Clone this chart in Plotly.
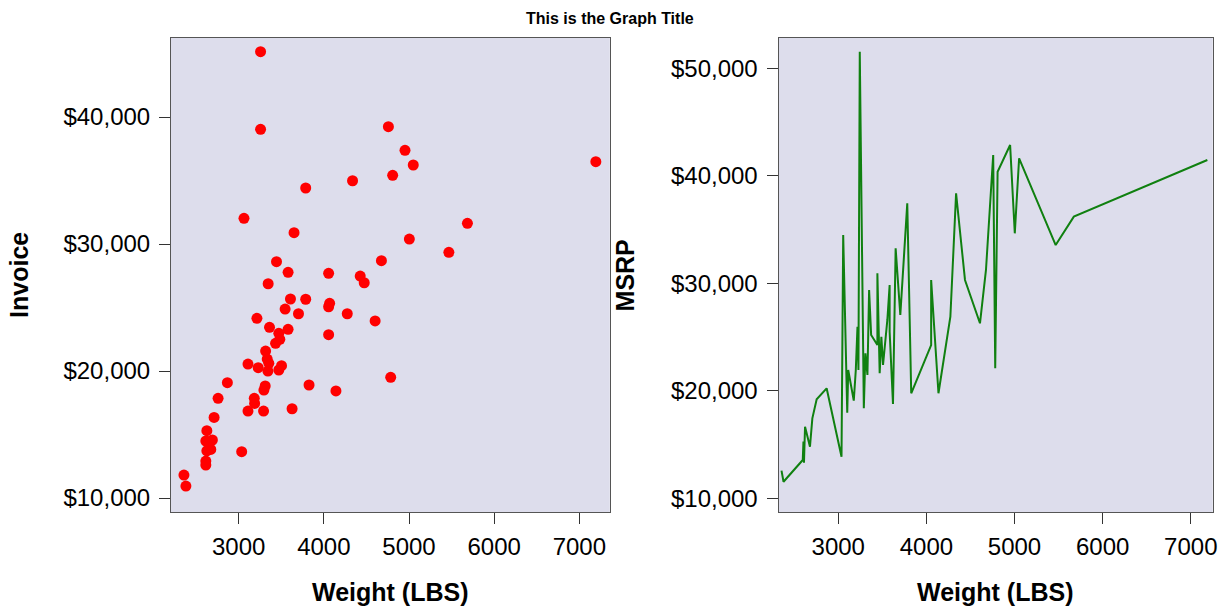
import plotly.graph_objects as go

# Nuage de points : poids (lbs) et prix facture
poids_pts = [3257, 3257, 4758, 4953, 5050, 4808, 7194, 4337, 3787, 3062,
             3650, 5686, 5004, 5468, 3444, 4676, 3580, 4056, 4427, 4474,
             3346, 3608, 3787, 4068, 4056, 3545, 3702, 4275, 3214, 4602,
             3362, 3471, 3580, 4056, 3483, 3433, 3316, 3335, 3109, 3229,
             3343, 3471, 3503, 3354, 2867, 4785, 3311, 3296, 3826, 4142,
             2758, 3183, 3187, 3109, 3292, 3627, 2711, 2626, 2614, 2691,
             2672, 2626, 3035, 2614, 2614, 2357, 2380]
invoice = [45140, 39030, 39240, 37380, 36220, 35410, 36480, 34980, 34410, 32020,
           30890, 31630, 30390, 29350, 28610, 28690, 27770, 27690, 27480, 26950,
           26870, 25670, 25650, 25330, 25060, 24880, 24510, 24510, 24150, 23940,
           23440, 22970, 23280, 22860, 22500, 22180, 21570, 20940, 20550, 20260,
           20000, 20080, 20420, 20610, 19080, 19500, 18820, 18500, 18900, 18430,
           17850, 17850, 17450, 16850, 16850, 17030, 16350, 15300, 14490, 14570,
           13830, 13720, 13650, 12910, 12600, 11810, 10940]

# Courbe : poids trié et prix de détail (MSRP)
poids_ligne = [2356, 2379, 2597, 2605, 2611, 2623, 2679, 2706, 2755, 2868,
               3037, 3056, 3102, 3113, 3176, 3199, 3218, 3229, 3244, 3290,
               3308, 3331, 3350, 3373, 3444, 3444, 3470, 3489, 3508, 3557,
               3583, 3583, 3621, 3651, 3704, 3783, 3828, 4054, 4054, 4137,
               4272, 4337, 4438, 4608, 4676, 4758, 4781, 4808, 4950, 5003,
               5052, 5467, 5673, 7188]
msrp = [12570, 11540, 13560, 15270, 13310, 16660, 14800, 17440, 19210, 20230,
        13870, 34490, 17960, 21930, 19080, 21930, 25960, 21930, 51540, 18370,
        23490, 21470, 29380, 25190, 24260, 30930, 21630, 25030, 22400, 26590,
        29840, 25500, 18770, 33250, 27050, 37440, 19770, 24260, 30310, 19770,
        26890, 38370, 30310, 26280, 31240, 41940, 22090, 40380, 42870, 34650,
        41630, 33560, 36200, 41470]

x_ticks = [3000, 4000, 5000, 6000, 7000]
y1_ticks = [10000, 20000, 30000, 40000]
y2_ticks = [10000, 20000, 30000, 40000, 50000]

W, H = 1225, 606
police = "Liberation Sans, Arial, sans-serif"
fond = "#DDDDEC"
cadre = "#555555"

fig = go.Figure()

fig.add_trace(go.Scatter(
    x=poids_pts, y=invoice, mode="markers",
    marker=dict(color="red", size=11),
    xaxis="x", yaxis="y", showlegend=False
))

fig.add_trace(go.Scatter(
    x=poids_ligne, y=msrp, mode="lines",
    line=dict(color="#108010", width=2),
    xaxis="x2", yaxis="y2", showlegend=False
))

axe_commun = dict(
    showline=True, mirror=True, linecolor=cadre, linewidth=1,
    ticks="outside", ticklen=11, tickcolor="#333333", tickwidth=1,
    showgrid=False, zeroline=False,
    tickfont=dict(family=police, size=24, color="black"),
)

def dollars(vals):
    return ["$" + f"{v:,}" for v in vals]

y_dom = [1 - 512 / H, 1 - 38 / H]

fig.update_layout(
    width=W, height=H,
    margin=dict(l=0, r=0, t=0, b=0),
    paper_bgcolor="white",
    plot_bgcolor=fond,
    xaxis=dict(axe_commun, domain=[171.7 / W, 612.3 / W], range=[2205, 7358],
               tickvals=x_ticks, anchor="y", ticklabelstandoff=2),
    yaxis=dict(axe_commun, domain=y_dom, range=[8900, 46220],
               tickvals=y1_ticks, ticktext=dollars(y1_ticks),
               anchor="x", ticklabelstandoff=4),
    xaxis2=dict(axe_commun, domain=[781.7 / W, 1217.7 / W], range=[2322, 7249],
                tickvals=x_ticks, anchor="y2", ticklabelstandoff=2),
    yaxis2=dict(axe_commun, domain=y_dom, range=[8725, 52820],
                tickvals=y2_ticks, ticktext=dollars(y2_ticks),
                anchor="x2", ticklabelstandoff=4),
)

# Titre et titres d'axes placés en pixels
def txt(x, y, s, size, angle=0):
    fig.add_annotation(x=x / W, y=1 - y / H, xref="paper", yref="paper",
                       text=f"<b>{s}</b>", showarrow=False, textangle=angle,
                       xanchor="center", yanchor="middle",
                       font=dict(family=police, size=size, color="black"))

txt(612, 19, "This is the Graph Title", 16)
txt(392, 592, "Weight (LBS)", 25)
txt(999, 592, "Weight (LBS)", 25)
txt(19, 275, "Invoice", 25, -90)
txt(628, 275, "MSRP", 25, -90)

fig.write_html("out.html", config={"displayModeBar": False},
               post_script="document.body.style.margin='0';document.body.style.overflow='hidden';")
